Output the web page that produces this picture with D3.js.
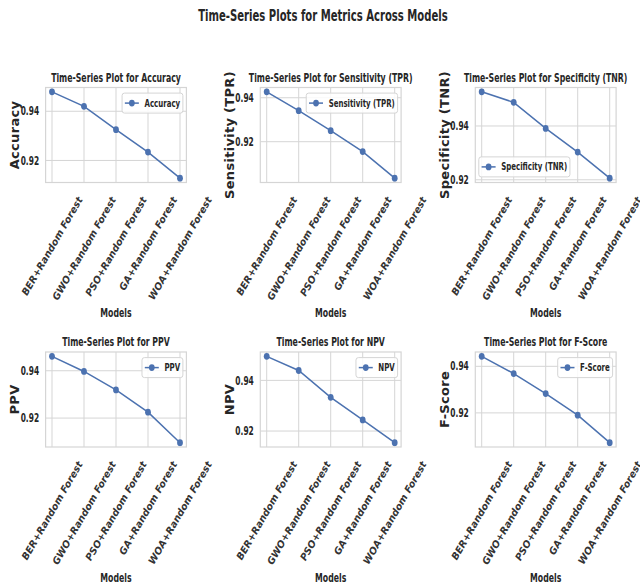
<!DOCTYPE html>
<html>
<head>
<meta charset="utf-8">
<script src="https://cdn.jsdelivr.net/npm/d3@7"></script>
<style>
  body { margin: 0; background: #ffffff; }
  svg text { font-family: "DejaVu Sans", sans-serif; fill: #262626; }
</style>
</head>
<body>
<svg id="chart" width="640" height="587"></svg>
<script>
// ---------------- data ----------------
const models = ["BER+Random Forest", "GWO+Random Forest", "PSO+Random Forest", "GA+Random Forest", "WOA+Random Forest"];
const metricNames = ["Accuracy", "Sensitivity (TPR)", "Specificity (TNR)", "PPV", "NPV", "F-Score"];
const accuracy    = [0.9479, 0.9420, 0.9325, 0.9234, 0.9128];
const sensitivity = [0.9427, 0.9341, 0.9250, 0.9155, 0.9034];
const specificity = [0.9527, 0.9488, 0.9391, 0.9303, 0.9206];
const ppv         = [0.9461, 0.9397, 0.9319, 0.9225, 0.9096];
const npv         = [0.9495, 0.9439, 0.9333, 0.9244, 0.9154];
const fscore      = [0.9443, 0.9369, 0.9283, 0.9190, 0.9072];
const yTicks = [0.92, 0.94];
const legendLoc = ["upper right", "upper right", "lower left", "upper right", "upper right", "upper right"];
const suptitle = "Time-Series Plots for Metrics Across Models";
const xLabel = "Models";

const seriesList = [accuracy, sensitivity, specificity, ppv, npv, fscore];

// ---------------- layout ----------------
const NX = 0.65;                       // narrow factor for horizontal texts
const colLeft = [45.6, 260.3, 475.3];
const axW = 140.8;
const rowTop = [87.5, 352];
const axH = 95;
const lineColor = "#4c72b0";
const gridColor = "#d5d5d5";

const svg = d3.select("#chart");

function hText(parent, x, y, str, size, anchor, baseline) {
  const t = parent.append("text")
    .attr("transform", `translate(${x},${y}) scale(${NX},1)`)
    .attr("text-anchor", anchor || "middle")
    .style("font-size", size + "px").style("font-weight", "bold")
    .text(str);
  if (baseline) t.attr("dominant-baseline", baseline);
  return t;
}

hText(svg, 323, 20.5, suptitle, 15.5, "middle");

seriesList.forEach((vals, i) => {
  const r = Math.floor(i / 3), c = i % 3;
  const name = metricNames[i];
  const w = axW, h = axH;
  const g = svg.append("g").attr("transform", `translate(${colLeft[c]},${rowTop[r]})`);

  const x = d3.scalePoint().domain(models).range([0, w]).padding(0.2);
  const mn = d3.min(vals), mx = d3.max(vals), span = mx - mn;
  const y = d3.scaleLinear().domain([mn - 0.05 * span, mx + 0.05 * span]).range([h, 0]);
  const ticks = yTicks.filter(t => t >= y.domain()[0] && t <= y.domain()[1]);

  // grid
  g.selectAll(".hg").data(ticks).enter().append("line")
    .attr("x1", 0).attr("x2", w).attr("y1", d => y(d)).attr("y2", d => y(d))
    .attr("stroke", gridColor).attr("stroke-width", 1);
  g.selectAll(".vg").data(models).enter().append("line")
    .attr("x1", d => x(d)).attr("x2", d => x(d)).attr("y1", 0).attr("y2", h)
    .attr("stroke", gridColor).attr("stroke-width", 1);
  // spines
  g.append("rect").attr("x", 0).attr("y", 0).attr("width", w).attr("height", h)
    .attr("fill", "none").attr("stroke", gridColor).attr("stroke-width", 1.2);

  // y tick labels
  ticks.forEach(t => hText(g, -6.5, y(t), d3.format(".2f")(t), 11.5, "end", "central"));

  // x tick labels (rotated 60deg, centred on tick, top aligned)
  const fs = 9.7;
  const ang = 60 * Math.PI / 180;
  g.selectAll(".xt").data(models).enter().append("text")
    .attr("text-anchor", "middle").attr("dominant-baseline", "central")
    .style("font-size", fs + "px").style("font-style", "italic").style("font-weight", "bold")
    .style("fill", "#333")
    .text(d => d)
    .each(function (d) {
      const L = this.getComputedTextLength();
      const th = fs * 1.15;
      const bh = L * Math.sin(ang) + th * Math.cos(ang);
      d3.select(this).attr("transform", `translate(${x(d)},${h + 12.5 + bh / 2}) rotate(-60)`);
    });

  // y label
  g.append("text")
    .attr("transform", `translate(-31,${h / 2}) rotate(-90)`)
    .attr("text-anchor", "middle").attr("dominant-baseline", "central")
    .style("font-size", "13px").style("font-weight", "bold")
    .style("letter-spacing", "0.3px")
    .text(name);

  // x label
  hText(g, w / 2, h + 134.5, xLabel, 12, "middle");

  // title
  hText(g, w / 2, -6, "Time-Series Plot for " + name, 12, "middle");

  // series line + markers
  const line = d3.line().x((d, k) => x(models[k])).y(d => y(d));
  g.append("path").datum(vals).attr("d", line)
    .attr("fill", "none").attr("stroke", lineColor).attr("stroke-width", 1.5);
  g.selectAll(".pt").data(vals).enter().append("ellipse")
    .attr("cx", (d, k) => x(models[k])).attr("cy", d => y(d))
    .attr("rx", 2.9).attr("ry", 3.4)
    .attr("fill", lineColor);

  // legend
  const fl = 10.8;
  const lg = g.append("g");
  const bg = lg.append("rect");
  const lt = hText(lg, 0, 0, name, fl, "start", "central");
  const tw = lt.node().getComputedTextLength() * NX;
  const bp = 2.8, hl = 14, htp = 5.6, pad = 3.5;
  const bw = 2 * bp + hl + htp + tw, bh = 20;
  let bx, by;
  if (legendLoc[i] === "upper right") { bx = w - pad - bw; by = 5.6; }
  else { bx = pad; by = h - 5.6 - bh; }
  bg.attr("x", bx).attr("y", by).attr("width", bw).attr("height", bh)
    .attr("rx", 2.5).attr("ry", 2.5)
    .attr("fill", "#ffffff").attr("fill-opacity", 0.85)
    .attr("stroke", gridColor).attr("stroke-width", 1);
  const cy = by + bh / 2;
  lg.append("line").attr("x1", bx + bp).attr("x2", bx + bp + hl).attr("y1", cy).attr("y2", cy)
    .attr("stroke", lineColor).attr("stroke-width", 1.5);
  lg.append("ellipse").attr("cx", bx + bp + hl / 2).attr("cy", cy).attr("rx", 2.9).attr("ry", 3.4).attr("fill", lineColor);
  lt.attr("transform", `translate(${bx + bp + hl + htp},${cy}) scale(${NX},1)`);
});
</script>
</body>
</html>
